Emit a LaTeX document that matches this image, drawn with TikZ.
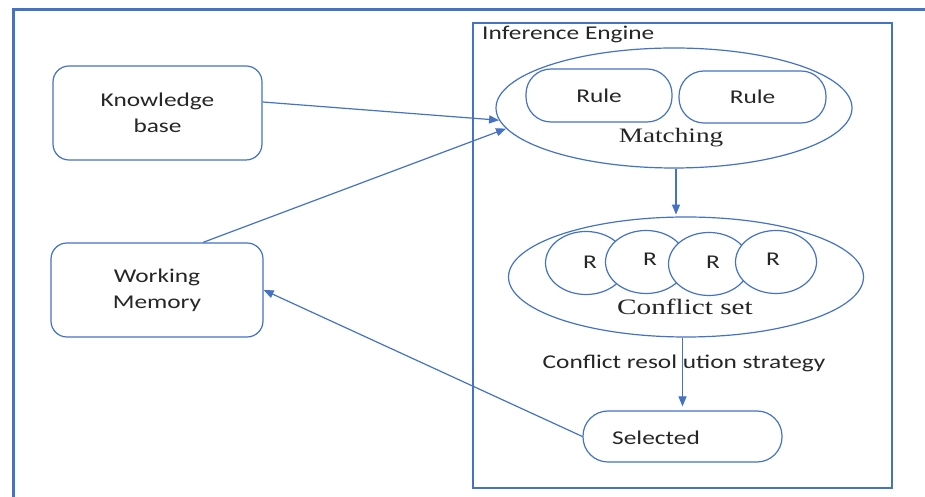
\documentclass[tikz,border=0pt]{standalone}
\usepackage{fontspec}
\setmainfont{Carlito}[FakeStretch=1.3]
\newfontfamily\serifface{Liberation Serif}[FakeStretch=1.33]
\usetikzlibrary{shapes.geometric,arrows.meta,calc}
\definecolor{lineblue}{HTML}{4472C4}
\definecolor{ink}{HTML}{262626}
\begin{document}
\begin{tikzpicture}[x=1pt,y=1pt,
  line/.style={draw=lineblue, line width=1.2pt},
  txt/.style={text=ink, font=\fontsize{19.5}{26}\selectfont, inner sep=0pt},
  box/.style={line, rectangle, rounded corners=16pt, inner sep=0pt, align=center, txt},
  pill/.style={line, rectangle, rounded corners=25pt, inner sep=0pt, txt, fill=white},
  oval/.style={line, ellipse, inner sep=0pt, fill=white},
  rcirc/.style={line, ellipse, inner sep=0pt, minimum width=81pt, minimum height=63pt, fill=white},
  arr/.style={draw=lineblue, line width=1.2pt, -{Triangle[length=10pt,width=8pt]}}
]
\useasboundingbox (0,0) rectangle (925,497);
\fill[white] (0,0) rectangle (925,497);

% outer frame
\draw[draw=lineblue, line width=3pt] (13,0) -- (13,487.5) -- (925,487.5);

% inference engine frame
\node[line, rectangle, inner sep=0pt, minimum width=419pt, minimum height=465pt] (ie) at (682.5,241.5) {};
\node[txt, anchor=base west] (ielabel) at (482,457) {Inference Engine};

% left-hand stores
\node[box, minimum width=209pt, minimum height=94pt] (kb) at (157.5,384) {Knowledge\\base};
\node[box, minimum width=212pt, minimum height=94pt] (wm) at (157,207) {Working\\Memory};

% matching stage
\node[oval, minimum width=356pt, minimum height=120pt] (match) at (674,389) {};
\node[pill, minimum width=146pt, minimum height=53pt] (rule1) at (599,401.5) {Rule};
\node[pill, minimum width=147pt, minimum height=52pt] (rule2) at (752.5,400) {Rule};
\node[inner sep=0pt, text=ink, font=\serifface\fontsize{20.5}{24}\selectfont] (mlabel) at (671,359) {Matching};

% conflict set
\node[oval, minimum width=355pt, minimum height=120pt] (cset) at (686,220) {};
\node[rcirc] (r1) at (586,234) {};
\node[rcirc] (r2) at (646,235) {};
\node[rcirc] (r3) at (709,233) {};
\node[rcirc] (r4) at (776,235) {};
\node[txt] (r1t) at (590,235) {R};
\node[txt] (r2t) at (650,238) {R};
\node[txt] (r3t) at (713,235) {R};
\node[txt] (r4t) at (773,238) {R};
\node[inner sep=0pt, text=ink, font=\serifface\fontsize{22}{26}\selectfont] (clabel) at (685,190) {Conflict set};

\node[txt] (crs) at (684,134) {Conflict resol ution strategy};

% selected rule
\node[pill, minimum width=199pt, minimum height=51pt] (sel) at (682.5,60.5) {};
\node[txt] (seltext) at (656,59) {Selected};

% connectors
\draw[arr] ($(kb.east)+(0,11)$) -- (match.184);
\draw[arr] ($(wm.north)+(46,0)$) -- (match.187);
\draw[arr] ($(match.south)+(2,0)$) -- ($(match.south)+(2,-46)$) coordinate (cstop);
\draw[arr] (sel.north |- cset.south) -- ($(sel.north)+(0,4)$);
\draw[arr] (sel.west) -- (wm.east);
\end{tikzpicture}
\end{document}
